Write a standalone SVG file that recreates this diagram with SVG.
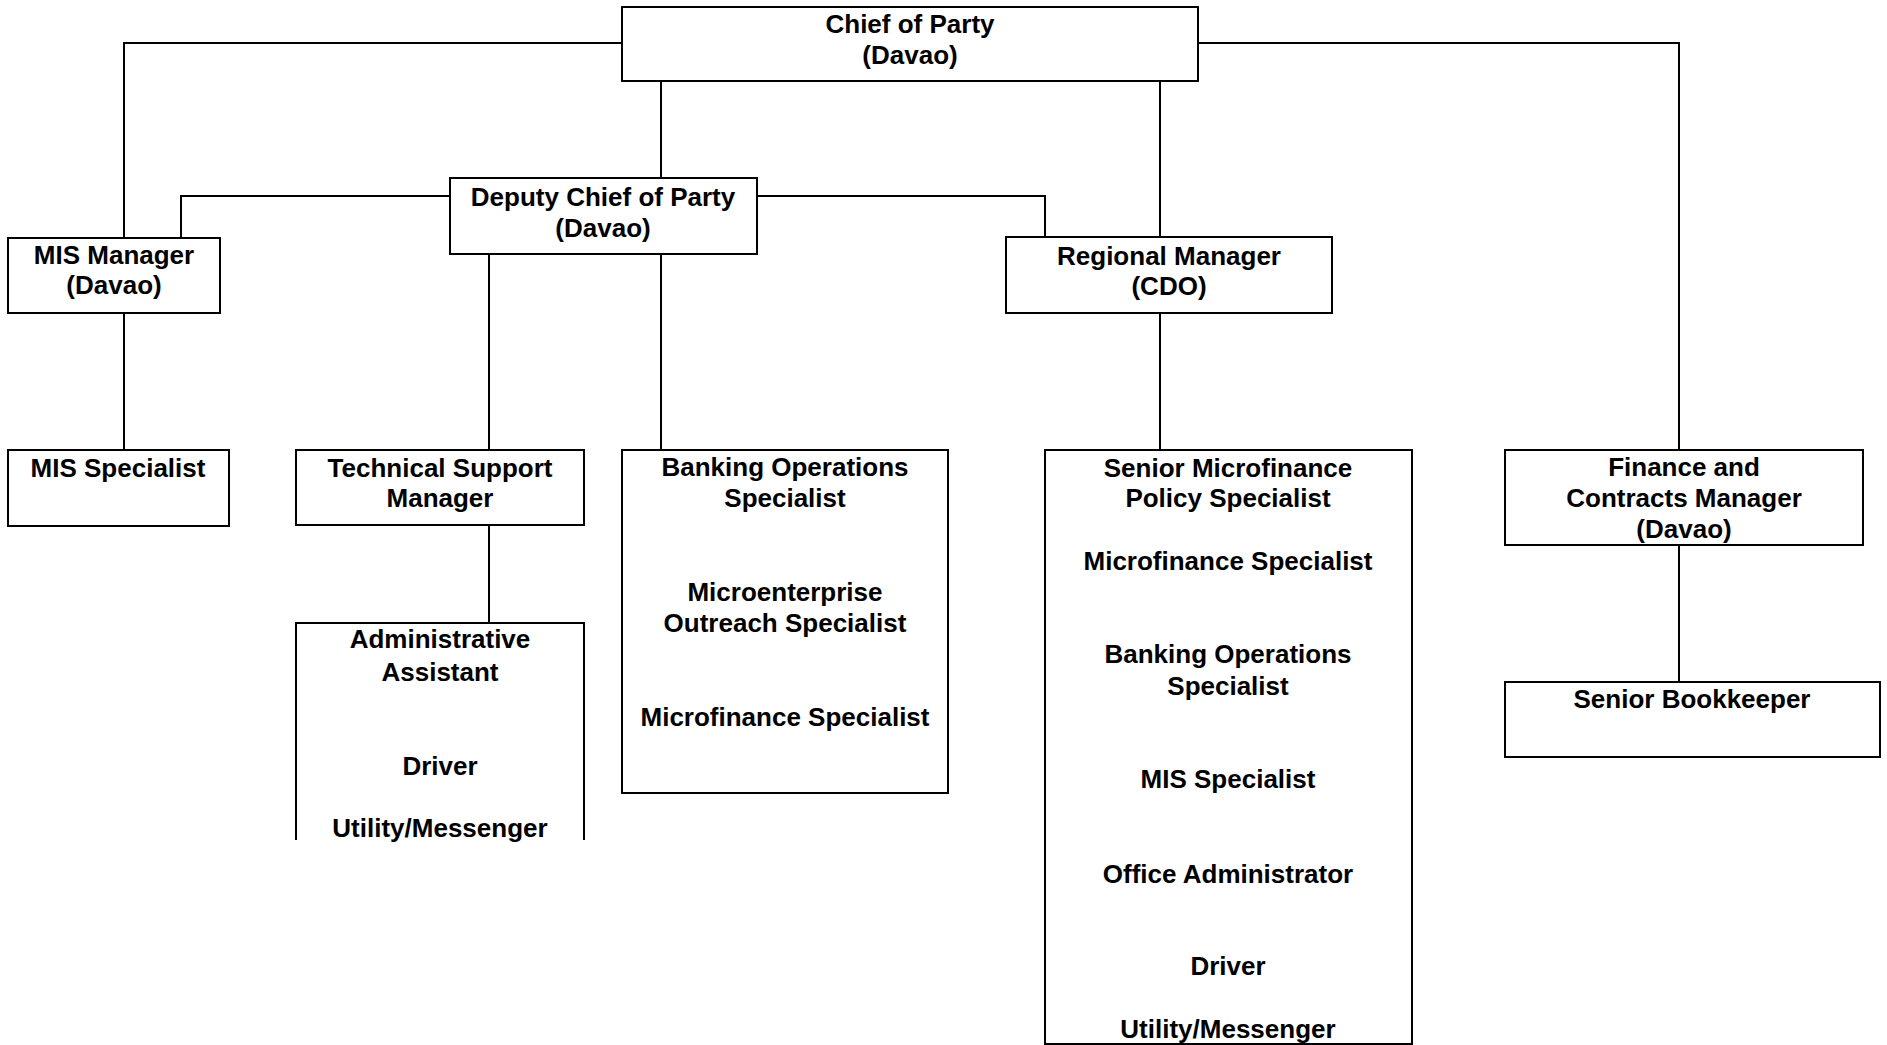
<svg xmlns="http://www.w3.org/2000/svg" width="1887" height="1045" viewBox="0 0 1887 1045">
<style>
.box{fill:#fff;stroke:#000;stroke-width:2}
.lbl{font-family:"Liberation Sans",Arial,sans-serif;font-weight:bold;font-size:26px;fill:#000;text-anchor:middle}
.con{fill:none;stroke:#000;stroke-width:2}
</style>
<rect width="1887" height="1045" fill="#fff"/>
<g id="connectors">
<path class="con" d="M622,43 H124 V238"/>
<path class="con" d="M1198,43 H1679 V450"/>
<path class="con" d="M661,81 V178"/>
<path class="con" d="M1160,81 V237"/>
<path class="con" d="M450,196 H181 V238"/>
<path class="con" d="M757,196 H1045 V237"/>
<path class="con" d="M124,313 V450"/>
<path class="con" d="M489,254 V450"/>
<path class="con" d="M661,254 V450"/>
<path class="con" d="M489,525 V623"/>
<path class="con" d="M1160,313 V450"/>
<path class="con" d="M1679,545 V682"/>
</g>
<g id="chief">
<rect class="box" x="622" y="7" width="576" height="74"/>
<text class="lbl" x="910" y="33">Chief of Party</text>
<text class="lbl" x="910" y="64">(Davao)</text>
</g>
<g id="deputy">
<rect class="box" x="450" y="178" width="307" height="76"/>
<text class="lbl" x="603" y="206">Deputy Chief of Party</text>
<text class="lbl" x="603" y="237">(Davao)</text>
</g>
<g id="mis-manager">
<rect class="box" x="8" y="238" width="212" height="75"/>
<text class="lbl" x="114" y="264">MIS Manager</text>
<text class="lbl" x="114" y="294">(Davao)</text>
</g>
<g id="regional">
<rect class="box" x="1006" y="237" width="326" height="76"/>
<text class="lbl" x="1169" y="265">Regional Manager</text>
<text class="lbl" x="1169" y="295">(CDO)</text>
</g>
<g id="mis-specialist">
<rect class="box" x="8" y="450" width="221" height="76"/>
<text class="lbl" x="118" y="477">MIS Specialist</text>
</g>
<g id="tech-support">
<rect class="box" x="296" y="450" width="288" height="75"/>
<text class="lbl" x="440" y="477">Technical Support</text>
<text class="lbl" x="440" y="507">Manager</text>
</g>
<g id="admin">
<path class="box" d="M296,840 V623 H584 V840"/>
<text class="lbl" x="440" y="648">Administrative</text>
<text class="lbl" x="440" y="681">Assistant</text>
<text class="lbl" x="440" y="775">Driver</text>
<text class="lbl" x="440" y="837">Utility/Messenger</text>
</g>
<g id="banking">
<rect class="box" x="622" y="450" width="326" height="343"/>
<text class="lbl" x="785" y="476">Banking Operations</text>
<text class="lbl" x="785" y="507">Specialist</text>
<text class="lbl" x="785" y="601">Microenterprise</text>
<text class="lbl" x="785" y="632">Outreach Specialist</text>
<text class="lbl" x="785" y="726">Microfinance Specialist</text>
</g>
<g id="senior-mf">
<rect class="box" x="1045" y="450" width="367" height="594"/>
<text class="lbl" x="1228" y="477">Senior Microfinance</text>
<text class="lbl" x="1228" y="507">Policy Specialist</text>
<text class="lbl" x="1228" y="570">Microfinance Specialist</text>
<text class="lbl" x="1228" y="663">Banking Operations</text>
<text class="lbl" x="1228" y="695">Specialist</text>
<text class="lbl" x="1228" y="788">MIS Specialist</text>
<text class="lbl" x="1228" y="883">Office Administrator</text>
<text class="lbl" x="1228" y="975">Driver</text>
<text class="lbl" x="1228" y="1038">Utility/Messenger</text>
</g>
<g id="finance">
<rect class="box" x="1505" y="450" width="358" height="95"/>
<text class="lbl" x="1684" y="476">Finance and</text>
<text class="lbl" x="1684" y="507">Contracts Manager</text>
<text class="lbl" x="1684" y="538">(Davao)</text>
</g>
<g id="bookkeeper">
<rect class="box" x="1505" y="682" width="375" height="75"/>
<text class="lbl" x="1692" y="708">Senior Bookkeeper</text>
</g>
</svg>
